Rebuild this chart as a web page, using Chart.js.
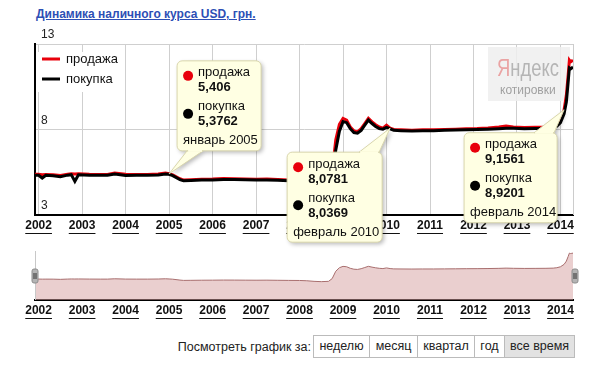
<!DOCTYPE html>
<html>
<head>
<meta charset="utf-8">
<script src="https://cdn.jsdelivr.net/npm/chart.js@4.4.1/dist/chart.umd.min.js"></script>
<style>
body { margin: 0; background: #fff; font-family: "Liberation Sans", Arial, sans-serif; }
#wrap { position: relative; width: 600px; height: 381px; overflow: hidden; }
#title { position: absolute; left: 36px; top: 7px; font-weight: bold; font-size: 12px; color: #2d4fb5; text-decoration: underline; }
#mainBox { position: absolute; left: 0; top: 0; width: 600px; height: 250px; z-index: 2; }
#navBox { position: absolute; left: 0; top: 248px; width: 600px; height: 75px; z-index: 1; }
#lbl { position: absolute; right: 289px; top: 340px; font-size: 12.5px; color: #222; }
#btns { position: absolute; left: 313px; top: 335px; height: 21px; display: flex; border: 1px solid #bbb; font-size: 12.5px; color: #222; }
#btns span { display: block; line-height: 21px; text-align: center; border-left: 1px solid #bbb; background: #fff; }
#btns span:first-child { border-left: none; }
#btns span.on { background: #e2e2e2; }
</style>
</head>
<body>
<div id="wrap">
  <div id="title">Динамика наличного курса USD, грн.</div>
  <div id="mainBox"><canvas id="mainChart"></canvas></div>
  <div id="navBox"><canvas id="navChart"></canvas></div>
  <div id="lbl">Посмотреть график за:</div>
  <div id="btns"><span style="width:55px">неделю</span><span style="width:47px">месяц</span><span style="width:56px">квартал</span><span style="width:29px">год</span><span class="on" style="width:69px">все время</span></div>
</div>
<script>
// данные
const dates = ['2001-12','2002-01','2002-02','2002-03','2002-05','2002-07','2002-09','2002-10','2002-11','2002-12',
  '2003-03','2003-06','2003-08','2003-10','2004-01','2004-04','2004-07','2004-10','2004-12','2005-01',
  '2005-02','2005-04','2005-05','2005-07','2005-10','2006-01','2006-04','2006-07','2006-10','2007-01',
  '2007-04','2007-07','2007-10','2008-01','2008-03','2008-05','2008-07','2008-09','2008-10','2008-11',
  '2008-12','2009-01','2009-02','2009-03','2009-04','2009-05','2009-06','2009-07','2009-08','2009-09',
  '2009-10','2009-11','2009-12','2010-01','2010-02','2010-03','2010-05','2010-08','2010-11','2011-02',
  '2011-05','2011-08','2011-11','2012-02','2012-05','2012-08','2012-10','2012-12','2013-03','2013-06',
  '2013-09','2013-11','2013-12','2014-01','2014-02','2014-02-20','2014-03-05','2014-03-15','2014-03-25','2014-04-05',
  '2014-04-15'];
const sale = [5.38,5.38,5.36,5.37,5.36,5.31,5.38,5.41,5.40,5.41,
  5.38,5.37,5.37,5.46,5.38,5.37,5.37,5.40,5.46,5.41,
  5.35,5.12,5.04,5.06,5.09,5.10,5.13,5.12,5.10,5.09,
  5.10,5.07,5.04,5.02,4.95,4.80,4.72,4.80,5.50,7.40,
  8.30,8.65,8.55,8.15,7.92,7.86,8.05,8.35,8.66,8.45,
  8.28,8.15,8.08,8.25,8.08,8.00,7.98,7.96,7.98,7.98,
  8.00,8.02,8.05,8.06,8.09,8.14,8.20,8.15,8.12,8.13,
  8.15,8.20,8.30,8.55,9.16,10.0,11.2,12.05,11.95,12.00,
  12.05];
const buy = [5.33,5.32,5.16,5.32,5.30,5.24,5.33,5.36,4.97,5.35,
  5.33,5.32,5.32,5.40,5.31,5.32,5.32,5.34,5.40,5.38,
  5.30,5.07,5.00,5.02,5.05,5.05,5.08,5.07,5.06,5.05,
  5.05,5.03,5.00,4.98,4.90,4.74,4.66,4.72,5.20,6.80,
  7.90,8.46,8.40,8.05,7.82,7.78,7.95,8.25,8.55,8.35,
  8.18,8.05,8.02,8.12,8.04,7.95,7.93,7.91,7.93,7.93,
  7.95,7.97,7.99,8.00,8.02,8.05,8.07,8.07,8.05,8.06,
  8.08,8.12,8.20,8.40,8.92,9.6,10.8,11.6,11.55,11.60,
  11.65];
const years = [2002,2003,2004,2005,2006,2007,2008,2009,2010,2011,2012,2013,2014];
const yTicks = [3,8,13];
const seriesNames = ['продажа','покупка'];
const notes = [
  { date: '2005-01', sale: '5,406', buy: '5,3762', label: 'январь 2005' },
  { date: '2010-02', sale: '8,0781', buy: '8,0369', label: 'февраль 2010' },
  { date: '2014-02', sale: '9,1561', buy: '8,9201', label: 'февраль 2014' }
];

// расположение подсказок относительно точки
const noteLayout = [
  { dx: 8, dy: -113, w: 84, tail: [10, 26], side: 'bottom' },
  { dx: -103, dy: 24, w: 95, tail: [72, 92], side: 'top' },
  { dx: -100, dy: 23, w: 93, tail: [70, 90], side: 'top' }
];

const RED = '#e8000b';
const FONT = '"Liberation Sans", Arial, sans-serif';

function toX(s) {
  const p = s.split('-').map(Number);
  return p[0] + (p[1] - 1) / 12 + ((p[2] || 1) - 1) / 365;
}
const xs = dates.map(toX);
const saleData = xs.map((x, i) => ({ x: x, y: sale[i] }));
const buyData = xs.map((x, i) => ({ x: x, y: buy[i] }));
const xMin = xs[0], xMax = xs[xs.length - 1];

function yearLabels(chart, y) {
  const ctx = chart.ctx, sx = chart.scales.x;
  ctx.save();
  ctx.font = 'bold 12px ' + FONT;
  ctx.fillStyle = '#111';
  ctx.strokeStyle = '#111';
  ctx.lineWidth = 1;
  ctx.textAlign = 'center';
  ctx.textBaseline = 'middle';
  years.forEach(v => {
    const px = sx.getPixelForValue(v);
    const w = ctx.measureText(String(v)).width;
    ctx.fillText(String(v), px, y);
    ctx.beginPath();
    ctx.moveTo(px - w / 2, y + 7.5);
    ctx.lineTo(px + w / 2, y + 7.5);
    ctx.stroke();
  });
  ctx.restore();
}

function drawNote(ctx, n, lay, px, py) {
  const bx = px + lay.dx, by = py + lay.dy, w = lay.w, h = 90, r = 5;
  const t0 = bx + lay.tail[0], t1 = bx + lay.tail[1];
  const ey = lay.side === 'top' ? by : by + h;
  const shape = () => {
    ctx.beginPath();
    ctx.roundRect(bx, by, w, h, r);
    ctx.moveTo(t0, ey);
    ctx.lineTo(px, py);
    ctx.lineTo(t1, ey);
    ctx.closePath();
  };
  ctx.save();
  ctx.shadowColor = 'rgba(0,0,0,0.28)';
  ctx.shadowBlur = 4;
  ctx.shadowOffsetX = 2;
  ctx.shadowOffsetY = 2;
  ctx.fillStyle = '#ffffe3';
  shape();
  ctx.fill();
  ctx.restore();
  ctx.save();
  ctx.strokeStyle = '#d9d6ad';
  ctx.lineWidth = 1;
  shape();
  ctx.stroke();
  // скрыть шов между хвостом и рамкой
  ctx.fillStyle = '#ffffe3';
  ctx.beginPath();
  const d = lay.side === 'top' ? 1 : -1;
  ctx.moveTo(t0 + 1, ey + d);
  ctx.lineTo(t1 - 1, ey + d);
  ctx.lineTo(t1 - 1, ey - d);
  ctx.lineTo(t0 + 1, ey - d);
  ctx.fill();

  ctx.textAlign = 'left';
  ctx.textBaseline = 'middle';
  ctx.fillStyle = RED;
  ctx.beginPath(); ctx.arc(bx + 11, by + 15, 5, 0, Math.PI * 2); ctx.fill();
  ctx.fillStyle = '#000';
  ctx.beginPath(); ctx.arc(bx + 11, by + 53, 5, 0, Math.PI * 2); ctx.fill();
  ctx.fillStyle = '#111';
  ctx.font = '13px ' + FONT;
  ctx.fillText(seriesNames[0], bx + 21, by + 12);
  ctx.fillText(seriesNames[1], bx + 21, by + 46);
  ctx.fillText(n.label, bx + 6, by + 80);
  ctx.font = 'bold 13px ' + FONT;
  ctx.fillText(n.sale, bx + 21, by + 27);
  ctx.fillText(n.buy, bx + 21, by + 61);
  ctx.restore();
}

const mainDecor = {
  id: 'mainDecor',
  beforeDatasetsDraw(chart) {
    const ctx = chart.ctx, a = chart.chartArea;
    ctx.save();
    // легенда
    ctx.fillStyle = '#fff';
    ctx.fillRect(a.left + 1, a.top + 8, 88, 40);
    ctx.lineWidth = 3;
    [RED, '#000'].forEach((c, i) => {
      const y = a.top + 15 + i * 20;
      ctx.strokeStyle = c;
      ctx.beginPath(); ctx.moveTo(a.left + 7, y); ctx.lineTo(a.left + 25, y); ctx.stroke();
      ctx.fillStyle = '#111';
      ctx.font = '13px ' + FONT;
      ctx.textBaseline = 'middle';
      ctx.fillText(seriesNames[i], a.left + 31, y);
    });
    // водяной знак
    ctx.fillStyle = 'rgba(238,238,238,0.85)';
    ctx.fillRect(a.right - 85, a.top + 3, 82, 54);
    ctx.save();
    const wx = a.right - 76;
    ctx.translate(wx, a.top + 32);
    ctx.scale(0.8, 1);
    ctx.font = '23px ' + FONT;
    ctx.textBaseline = 'alphabetic';
    ctx.fillStyle = '#eaa3a3';
    ctx.fillText('Я', 0, 0);
    const wy = ctx.measureText('Я').width;
    ctx.fillStyle = '#b5b5b5';
    ctx.fillText('ндекс', wy, 0);
    ctx.restore();
    ctx.font = '12px ' + FONT;
    ctx.fillStyle = '#a0a0a0';
    ctx.fillText('котировки', a.right - 73, a.top + 47);
    ctx.restore();
  },
  afterDraw(chart) {
    const ctx = chart.ctx, a = chart.chartArea, sy = chart.scales.y, sx = chart.scales.x;
    ctx.save();
    ctx.strokeStyle = '#cccccc';
    ctx.lineWidth = 1;
    ctx.beginPath(); ctx.moveTo(a.right + 0.5, a.top); ctx.lineTo(a.right + 0.5, a.bottom); ctx.stroke();
    ctx.font = '12px ' + FONT;
    ctx.fillStyle = '#222';
    ctx.textBaseline = 'middle';
    yTicks.forEach(v => ctx.fillText(String(v), a.left + 6, sy.getPixelForValue(v) - 9));
    ctx.restore();
    yearLabels(chart, a.bottom + 11);
    notes.forEach((n, i) => {
      const px = sx.getPixelForValue(toX(n.date));
      const py = sy.getPixelForValue(parseFloat(n.sale.replace(',', '.')));
      drawNote(ctx, n, noteLayout[i], px, py);
    });
  }
};

new Chart(document.getElementById('mainChart'), {
  type: 'line',
  data: {
    datasets: [
      { label: seriesNames[1], data: buyData, borderColor: '#000', borderWidth: 3, pointRadius: 0, order: 0 },
      { label: seriesNames[0], data: saleData, borderColor: RED, borderWidth: 3, pointRadius: 0, order: 1 }
    ]
  },
  options: {
    responsive: true,
    maintainAspectRatio: false,
    animation: false,
    layout: { padding: { left: 35, right: 27, top: 44, bottom: 35 } },
    plugins: { legend: { display: false }, tooltip: { enabled: false } },
    scales: {
      x: {
        type: 'linear', min: xMin, max: xMax,
        afterBuildTicks: s => { s.ticks = years.map(v => ({ value: v })); },
        afterFit: s => { s.height = 0; },
        ticks: { display: false },
        grid: { color: '#cfcfcf', drawTicks: false },
        border: { color: '#000', width: 2 }
      },
      y: {
        min: 3, max: 13,
        afterBuildTicks: s => { s.ticks = yTicks.map(v => ({ value: v })); },
        afterFit: s => { s.width = 0; },
        ticks: { display: false },
        grid: { color: '#cfcfcf', drawTicks: false },
        border: { color: '#000', width: 2 }
      }
    }
  },
  plugins: [mainDecor]
});

const navDecor = {
  id: 'navDecor',
  afterDraw(chart) {
    const ctx = chart.ctx, a = chart.chartArea;
    yearLabels(chart, a.bottom + 11);
    ctx.save();
    ctx.strokeStyle = '#c8c8c8';
    ctx.lineWidth = 1;
    ctx.beginPath(); ctx.moveTo(a.left + 0.5, a.top); ctx.lineTo(a.left + 0.5, a.bottom); ctx.stroke();
    [a.left - 3, a.right - 1].forEach(hx => {
      const hy = a.top + 18;
      ctx.fillStyle = '#b4b4b4';
      ctx.strokeStyle = '#8c8c8c';
      ctx.beginPath(); ctx.roundRect(hx, hy, 6, 14, 2); ctx.fill(); ctx.stroke();
      ctx.strokeStyle = '#333';
      ctx.beginPath();
      ctx.moveTo(hx + 2, hy + 4); ctx.lineTo(hx + 2, hy + 10);
      ctx.moveTo(hx + 4, hy + 4); ctx.lineTo(hx + 4, hy + 10);
      ctx.stroke();
    });
    ctx.restore();
  }
};

new Chart(document.getElementById('navChart'), {
  type: 'line',
  data: {
    datasets: [{
      data: saleData, borderColor: '#a86e6e', borderWidth: 1, pointRadius: 0,
      fill: 'origin', backgroundColor: 'rgba(214,160,160,0.5)'
    }]
  },
  options: {
    responsive: true,
    maintainAspectRatio: false,
    animation: false,
    layout: { padding: { left: 35, right: 27, top: 3, bottom: 23 } },
    plugins: { legend: { display: false }, tooltip: { enabled: false } },
    scales: {
      x: {
        type: 'linear', min: xMin, max: xMax,
        afterFit: s => { s.height = 0; },
        ticks: { display: false },
        grid: { display: false },
        border: { color: '#000', width: 2 }
      },
      y: {
        min: 0, max: 12.6,
        display: false
      }
    }
  },
  plugins: [navDecor]
});
</script>
</body>
</html>
